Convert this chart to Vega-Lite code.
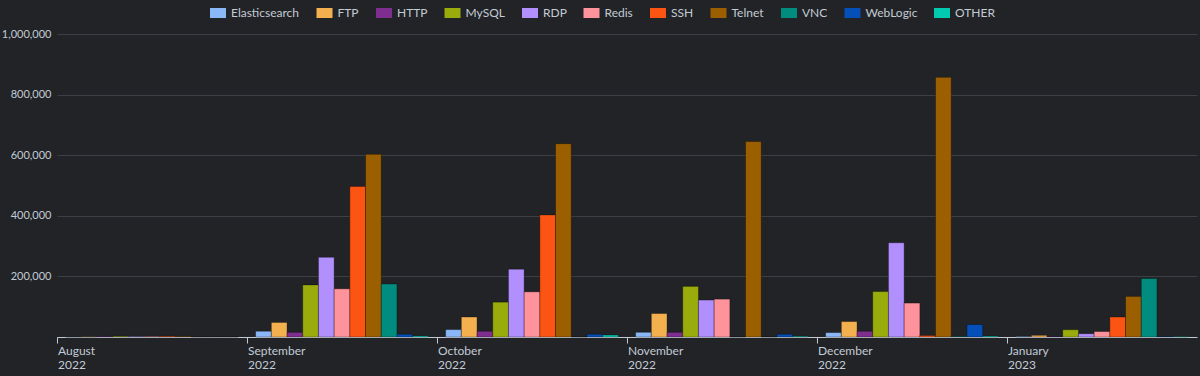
{
 "$schema": "https://vega.github.io/schema/vega-lite/v6.json",
 "width": 1140,
 "height": 303,
 "autosize": {"type": "none"},
 "padding": {"left": 57, "top": 34, "right": 3, "bottom": 39},
 "background": "#212327",
 "config": {"view": {"stroke": null}, "font": "Lato"},
 "data": {"values": [
  {"month": "August 2022", "cat": "Elasticsearch", "count": 300},
  {"month": "August 2022", "cat": "FTP", "count": 500},
  {"month": "August 2022", "cat": "HTTP", "count": 2000},
  {"month": "August 2022", "cat": "MySQL", "count": 2500},
  {"month": "August 2022", "cat": "RDP", "count": 2000},
  {"month": "August 2022", "cat": "Redis", "count": 2000},
  {"month": "August 2022", "cat": "SSH", "count": 2500},
  {"month": "August 2022", "cat": "Telnet", "count": 2000},
  {"month": "August 2022", "cat": "VNC", "count": 0},
  {"month": "August 2022", "cat": "WebLogic", "count": 0},
  {"month": "August 2022", "cat": "OTHER", "count": 0},
  {"month": "September 2022", "cat": "Elasticsearch", "count": 19000},
  {"month": "September 2022", "cat": "FTP", "count": 48000},
  {"month": "September 2022", "cat": "HTTP", "count": 15500},
  {"month": "September 2022", "cat": "MySQL", "count": 172000},
  {"month": "September 2022", "cat": "RDP", "count": 263000},
  {"month": "September 2022", "cat": "Redis", "count": 159000},
  {"month": "September 2022", "cat": "SSH", "count": 497000},
  {"month": "September 2022", "cat": "Telnet", "count": 603000},
  {"month": "September 2022", "cat": "VNC", "count": 175000},
  {"month": "September 2022", "cat": "WebLogic", "count": 9000},
  {"month": "September 2022", "cat": "OTHER", "count": 3500},
  {"month": "October 2022", "cat": "Elasticsearch", "count": 24500},
  {"month": "October 2022", "cat": "FTP", "count": 66000},
  {"month": "October 2022", "cat": "HTTP", "count": 19000},
  {"month": "October 2022", "cat": "MySQL", "count": 115000},
  {"month": "October 2022", "cat": "RDP", "count": 224000},
  {"month": "October 2022", "cat": "Redis", "count": 149000},
  {"month": "October 2022", "cat": "SSH", "count": 403000},
  {"month": "October 2022", "cat": "Telnet", "count": 638000},
  {"month": "October 2022", "cat": "VNC", "count": 0},
  {"month": "October 2022", "cat": "WebLogic", "count": 9000},
  {"month": "October 2022", "cat": "OTHER", "count": 6500},
  {"month": "November 2022", "cat": "Elasticsearch", "count": 15500},
  {"month": "November 2022", "cat": "FTP", "count": 77500},
  {"month": "November 2022", "cat": "HTTP", "count": 15500},
  {"month": "November 2022", "cat": "MySQL", "count": 167000},
  {"month": "November 2022", "cat": "RDP", "count": 122000},
  {"month": "November 2022", "cat": "Redis", "count": 125000},
  {"month": "November 2022", "cat": "SSH", "count": 0},
  {"month": "November 2022", "cat": "Telnet", "count": 645000},
  {"month": "November 2022", "cat": "VNC", "count": 0},
  {"month": "November 2022", "cat": "WebLogic", "count": 9000},
  {"month": "November 2022", "cat": "OTHER", "count": 2500},
  {"month": "December 2022", "cat": "Elasticsearch", "count": 14600},
  {"month": "December 2022", "cat": "FTP", "count": 51000},
  {"month": "December 2022", "cat": "HTTP", "count": 19000},
  {"month": "December 2022", "cat": "MySQL", "count": 150000},
  {"month": "December 2022", "cat": "RDP", "count": 311000},
  {"month": "December 2022", "cat": "Redis", "count": 112000},
  {"month": "December 2022", "cat": "SSH", "count": 5000},
  {"month": "December 2022", "cat": "Telnet", "count": 857000},
  {"month": "December 2022", "cat": "VNC", "count": 2000},
  {"month": "December 2022", "cat": "WebLogic", "count": 41000},
  {"month": "December 2022", "cat": "OTHER", "count": 3000},
  {"month": "January 2023", "cat": "Elasticsearch", "count": 2000},
  {"month": "January 2023", "cat": "FTP", "count": 5500},
  {"month": "January 2023", "cat": "HTTP", "count": 1500},
  {"month": "January 2023", "cat": "MySQL", "count": 24000},
  {"month": "January 2023", "cat": "RDP", "count": 11000},
  {"month": "January 2023", "cat": "Redis", "count": 18000},
  {"month": "January 2023", "cat": "SSH", "count": 66000},
  {"month": "January 2023", "cat": "Telnet", "count": 134000},
  {"month": "January 2023", "cat": "VNC", "count": 193000},
  {"month": "January 2023", "cat": "WebLogic", "count": 1500},
  {"month": "January 2023", "cat": "OTHER", "count": 1500}
 ]},
 "mark": {"type": "bar", "stroke": "#000000", "strokeOpacity": 0.3, "strokeWidth": 1},
 "encoding": {
  "x": {
   "field": "month", "type": "ordinal", "sort": null,
   "scale": {"paddingInner": 0, "paddingOuter": 0},
   "axis": {"title": null, "bandPosition": 0, "labelAngle": 0, "labelAlign": "left", "labelBaseline": "top",
    "labelExpr": "split(datum.label, ' ')", "labelColor": "#c3cbd4", "labelFontSize": 12, "labelPadding": 2,
    "labelLineHeight": 14, "labelOffset": -94, "domainColor": "#c3cbd4", "tickColor": "#c3cbd4", "tickSize": 6, "grid": false}
  },
  "xOffset": {"field": "cat", "type": "nominal", "sort": null, "scale": {"paddingInner": 0, "paddingOuter": 0.55}},
  "y": {
   "field": "count", "type": "quantitative",
   "scale": {"domain": [0, 1000000], "nice": false},
   "axis": {"title": null, "values": [200000, 400000, 600000, 800000, 1000000], "format": ",d", "domain": false,
    "ticks": false, "labelPadding": 6, "labelColor": "#c3cbd4", "labelFontSize": 11, "gridColor": "#3b4046"}
  },
  "color": {
   "field": "cat", "type": "nominal", "sort": null,
   "scale": {
    "domain": ["Elasticsearch", "FTP", "HTTP", "MySQL", "RDP", "Redis", "SSH", "Telnet", "VNC", "WebLogic", "OTHER"],
    "range": ["#8ab7f7", "#f4b04f", "#7e2e8e", "#9aac0c", "#b18ffc", "#ff939c", "#fc5412", "#9c5f00", "#008c7e", "#054fb9", "#00cbb0"]
   },
   "legend": {"title": null, "orient": "none", "direction": "horizontal", "columns": 11, "legendX": 153, "legendY": -29,
    "symbolType": "M-1,-0.625H1V0.625H-1Z", "symbolSize": 256, "symbolStrokeWidth": 0, "labelColor": "#c3cbd4",
    "labelFontSize": 12, "labelOffset": 5, "columnPadding": 16.5}
  }
 }
}
